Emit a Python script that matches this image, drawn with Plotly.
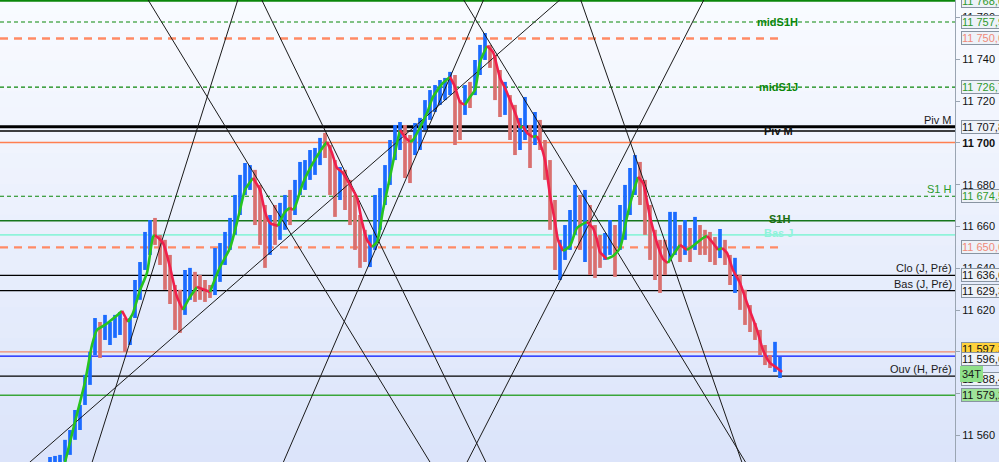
import plotly.graph_objects as go

# price bars, one per period (high / low), u = up bar, d = down bar
highs = [11549.7, 11550.2, 11550.7, 11557.9, 11562.6, 11572.2, 11574.6, 11589.0, 11600.0, 11616.2,
         11614.3, 11617.7, 11614.3, 11617.7, 11619.1, 11616.2, 11616.2, 11634.4, 11643.0, 11657.4,
         11663.1, 11664.1, 11656.0, 11653.6, 11646.4, 11632.0, 11629.7, 11639.2, 11640.2, 11638.3,
         11636.8, 11634.4, 11632.0, 11649.7, 11652.1, 11657.4, 11664.1, 11675.1, 11684.7, 11690.4,
         11689.4, 11687.1, 11679.9, 11670.3, 11665.5, 11670.3, 11671.3, 11675.1, 11677.5, 11682.3,
         11690.9, 11691.8, 11696.6, 11697.6, 11702.4, 11704.8, 11699.0, 11691.8, 11688.5, 11687.1,
         11682.3, 11675.1, 11665.5, 11658.4, 11656.0, 11675.1, 11678.4, 11689.4, 11701.4, 11708.6,
         11710.0, 11708.6, 11703.8, 11709.5, 11712.0, 11720.5, 11725.3, 11727.7, 11730.1, 11731.1,
         11734.0, 11732.5, 11720.5, 11727.7, 11729.2, 11739.7, 11746.9, 11752.6, 11746.9, 11742.1,
         11734.9, 11729.2, 11722.9, 11718.2, 11711.9, 11722.0, 11708.6, 11714.8, 11711.0, 11701.4,
         11691.8, 11672.7, 11653.6, 11660.7, 11667.9, 11679.9, 11675.1, 11677.5, 11670.3, 11660.7,
         11656.0, 11656.9, 11663.1, 11660.7, 11670.3, 11679.9, 11688.0, 11694.2, 11690.9, 11682.3,
         11670.3, 11658.4, 11653.6, 11653.6, 11667.0, 11667.0, 11660.7, 11663.1, 11659.3, 11664.6,
         11660.7, 11658.4, 11657.4, 11655.0, 11658.8, 11653.6, 11646.4, 11645.0, 11636.8, 11629.7,
         11622.4, 11613.8, 11610.5, 11603.3, 11598.5, 11604.8, 11597.6]
lows = [11545.0, 11545.0, 11546.0, 11547.5, 11550.7, 11557.9, 11562.6, 11574.6, 11584.2, 11598.5,
        11597.1, 11605.7, 11603.3, 11606.7, 11608.1, 11600.0, 11603.3, 11616.2, 11624.9, 11639.2,
        11646.4, 11651.2, 11641.6, 11629.7, 11622.9, 11610.5, 11609.1, 11617.7, 11624.9, 11623.9,
        11624.9, 11623.9, 11625.8, 11627.2, 11633.5, 11641.6, 11648.8, 11656.0, 11665.5, 11675.1,
        11677.5, 11660.7, 11651.2, 11640.2, 11646.4, 11651.2, 11653.6, 11658.4, 11660.7, 11665.5,
        11675.1, 11677.5, 11682.3, 11684.7, 11689.4, 11692.8, 11675.1, 11664.6, 11672.7, 11667.9,
        11660.7, 11648.8, 11640.2, 11643.0, 11640.6, 11648.8, 11658.4, 11670.3, 11679.9, 11691.8,
        11696.6, 11683.2, 11680.8, 11694.2, 11696.6, 11706.2, 11711.0, 11714.8, 11718.2, 11720.5,
        11722.9, 11699.0, 11701.4, 11713.4, 11716.7, 11722.9, 11732.5, 11739.7, 11735.9, 11720.5,
        11712.4, 11713.4, 11701.4, 11694.2, 11696.6, 11701.4, 11688.0, 11699.0, 11696.6, 11682.3,
        11658.4, 11639.2, 11634.4, 11644.0, 11648.8, 11656.0, 11648.8, 11643.0, 11636.8, 11635.4,
        11640.2, 11644.0, 11646.4, 11635.9, 11648.8, 11653.6, 11665.5, 11675.1, 11670.3, 11656.0,
        11644.0, 11634.4, 11628.2, 11636.8, 11644.0, 11646.4, 11643.0, 11646.4, 11643.0, 11648.8,
        11646.4, 11646.4, 11643.0, 11641.6, 11644.9, 11641.6, 11632.0, 11628.2, 11620.1, 11612.9,
        11609.5, 11605.7, 11598.5, 11593.7, 11592.3, 11590.4, 11587.5]
bar_dir = ("uuuuuuuuuu" "duuuuduuuu" "udddddduud" "ddduuuuuuu" "uddduduudu"
           "uuuuudddud" "dddduuuuuu" "udduuuuuuu" "udduduuudd" "dudduududd"
           "dduuuududd" "duuduuuudd" "dddduududu" "dddduddudd" "ddddduu")

# moving average (bar position, value)
ma_idx = [2.0, 3.0, 5.0, 7.0, 8.4, 9.4, 11.0, 13.0, 14.4, 15.6, 16.6, 18.0, 19.4, 20.6, 21.0,
          22.6, 24.0, 25.4, 26.6, 28.0, 29.4, 31.0, 32.0, 34.0, 36.0, 38.0, 39.0, 40.6, 42.0,
          43.0, 44.0, 45.6, 47.0, 48.0, 48.6, 49.0, 50.6, 52.6, 54.6, 55.4, 56.4, 57.4, 58.4,
          60.0, 61.4, 62.4, 63.4, 64.4, 65.4, 66.6, 68.0, 69.4, 70.0, 71.0, 72.0, 72.6, 75.4,
          76.6, 78.6, 80.0, 81.0, 82.0, 83.0, 84.0, 85.0, 86.0, 87.4, 88.6, 90.0, 91.0, 92.0,
          93.4, 94.0, 94.6, 95.4, 96.6, 97.4, 98.0, 99.0, 100.0, 101.0, 101.6, 102.6, 104.0,
          105.4, 107.4, 108.6, 109.4, 110.0, 111.4, 112.6, 114.0, 115.4, 116.6, 117.6, 118.6,
          120.0, 121.4, 122.6, 123.6, 124.6, 126.0, 127.4, 128.6, 130.6, 131.4, 132.6, 133.6,
          134.4, 135.4, 136.6, 138.0, 139.4, 141.4, 142.6, 144.0, 145.4, 146.4]
ma_val = [11539.7, 11547.3, 11566.5, 11585.6, 11603.3, 11610.5, 11612.9, 11616.7, 11619.6, 11614.3,
          11618.6, 11629.6, 11637.8, 11655.0, 11655.9, 11652.1, 11640.6, 11626.3, 11620.1, 11626.3,
          11631.1, 11629.6, 11628.7, 11640.6, 11649.7, 11667.9, 11677.5, 11683.2, 11677.5, 11667.0,
          11661.7, 11660.3, 11667.0, 11668.9, 11667.9, 11669.3, 11680.8, 11690.4, 11698.1, 11700.5,
          11695.2, 11688.0, 11686.1, 11679.9, 11673.7, 11662.2, 11653.6, 11650.2, 11652.6, 11667.9,
          11683.7, 11700.0, 11706.2, 11702.8, 11700.5, 11701.4, 11714.3, 11722.0, 11728.7, 11731.6,
          11726.8, 11719.6, 11718.2, 11722.0, 11725.3, 11738.7, 11746.4, 11743.5, 11731.1, 11726.3,
          11720.5, 11712.0, 11707.2, 11708.1, 11704.8, 11702.8, 11703.3, 11700.0, 11691.8, 11675.1,
          11662.2, 11653.6, 11648.3, 11650.7, 11659.3, 11662.2, 11659.3, 11653.6, 11647.8, 11644.5,
          11645.9, 11649.7, 11664.6, 11676.0, 11683.7, 11680.8, 11664.6, 11652.1, 11644.5, 11642.6,
          11646.4, 11651.2, 11648.8, 11650.7, 11654.5, 11655.5, 11652.1, 11648.8, 11649.7, 11647.3,
          11639.2, 11633.0, 11623.4, 11610.5, 11600.9, 11594.7, 11592.3, 11590.4]

# straight trend lines drawn on the chart: (start bar, start price, end bar, end price)
trend_lines = [
    (17.8, 11775.6, 77.8, 11540.2),
    (38.5, 11775.6, 7.5, 11540.2),
    (40.9, 11775.6, 88.6, 11540.2),
    (105.4, 11775.6, -7.4, 11540.2),
    (88.0, 11775.6, 45.4, 11540.2),
    (80.9, 11775.6, 140.9, 11540.2),
    (105.1, 11775.6, 139.4, 11540.2),
    (132.3, 11775.6, 81.9, 11540.2),
]

# horizontal levels
level_keys = ["top", "midS1H", "haut_tir", "midS1J", "Piv M", "piv_bas", "ouv", "S1 H", "S1H",
              "Bas J", "bas_tir", "Clo (J, Pré)", "Bas (J, Pré)", "rond", "bleu", "Ouv (H, Pré)", "S2"]
level_values = [11768.0, 11757.9, 11750.0, 11726.7, 11707.8, 11705.7, 11700.2, 11674.5, 11662.7,
                11656.0, 11650.0, 11636.6, 11629.3, 11600.0, 11598.0, 11588.4, 11579.2]

# price boxes on the right scale
box_values = [11768.0, 11757.9, 11750.0, 11726.7, 11707.8, 11674.5, 11650.0, 11636.6, 11629.3,
              11597.3, 11596.6, 11588.4, 11579.2]

tick_vals = [11560, 11580, 11600, 11620, 11640, 11660, 11680, 11700, 11720, 11740, 11760]

GREEN_D = "#0b870b"
ORANGE = "#ff8a65"
level_style = {
    "top": dict(color=GREEN_D, width=1.6, dash="solid", x1=1),
    "midS1H": dict(color=GREEN_D, width=1.1, dash="4px,3px", x1=1),
    "haut_tir": dict(color=ORANGE, width=2.4, dash="8px,6px", x1=0.815),
    "midS1J": dict(color=GREEN_D, width=1.1, dash="4px,3px", x1=1),
    "Piv M": dict(color="#000000", width=3, dash="solid", x1=1),
    "piv_bas": dict(color="#000000", width=1.3, dash="solid", x1=1),
    "ouv": dict(color="#ff7f50", width=1.3, dash="solid", x1=1),
    "S1 H": dict(color=GREEN_D, width=1.1, dash="4px,3px", x1=1),
    "S1H": dict(color="#16761c", width=1.5, dash="solid", x1=1),
    "Bas J": dict(color="#8ff3da", width=1.6, dash="solid", x1=1),
    "bas_tir": dict(color=ORANGE, width=2.4, dash="8px,6px", x1=0.815),
    "Clo (J, Pré)": dict(color="#000000", width=1.2, dash="solid", x1=1),
    "Bas (J, Pré)": dict(color="#000000", width=1.2, dash="solid", x1=1),
    "rond": dict(color="#f08a6e", width=1.3, dash="solid", x1=1),
    "bleu": dict(color="#0010ff", width=1.3, dash="solid", x1=1),
    "Ouv (H, Pré)": dict(color="#000000", width=1.3, dash="solid", x1=1),
    "S2": dict(color="#3aa63a", width=1.5, dash="solid", x1=1),
}

fig = go.Figure()

# background gradient (light at top, bluish at bottom)
n_bands = 30
top_rgb, bot_rgb = (249, 251, 255), (219, 228, 250)
for k in range(n_bands):
    t = (k + 0.5) / n_bands
    c = tuple(int(round(top_rgb[j] + (bot_rgb[j] - top_rgb[j]) * t)) for j in range(3))
    fig.add_shape(type="rect", xref="paper", yref="paper", x0=-0.01, x1=1.06,
                  y0=1 - (k + 1) / n_bands, y1=1 - k / n_bands + 0.002,
                  fillcolor="rgb(%d,%d,%d)" % c, line_width=0, layer="below")

for key, val in zip(level_keys, level_values):
    st = level_style[key]
    fig.add_shape(type="line", xref="paper", yref="y", x0=0, x1=st["x1"], y0=val, y1=val,
                  line=dict(color=st["color"], width=st["width"], dash=st["dash"]), layer="below")

# bars
idx = list(range(len(highs)))
for d, col in (("u", "#1b6bff"), ("d", "#d9706f")):
    xs = [i for i in idx if bar_dir[i] == d]
    fig.add_trace(go.Bar(x=xs, y=[highs[i] - lows[i] for i in xs], base=[lows[i] for i in xs],
                         width=0.74, marker=dict(color=col, line=dict(width=0)),
                         hoverinfo="skip", showlegend=False))

# trend lines
for x0, y0, x1, y1 in trend_lines:
    fig.add_trace(go.Scatter(x=[x0, x1], y=[y0, y1], mode="lines",
                             line=dict(color="#1a1a1a", width=1), hoverinfo="skip", showlegend=False))

# moving average coloured by direction
def add_ma(xs, ys, rising):
    fig.add_trace(go.Scatter(x=xs, y=ys, mode="lines",
                             line=dict(color="#27c41f" if rising else "#f0204c", width=2.6,
                                       shape="spline", smoothing=0.6),
                             hoverinfo="skip", showlegend=False))

seg_x, seg_y = [ma_idx[0]], [ma_val[0]]
seg_up = ma_val[1] > ma_val[0]
for k in range(1, len(ma_idx)):
    rising = ma_val[k] > ma_val[k - 1]
    if rising != seg_up:
        add_ma(seg_x, seg_y, seg_up)
        seg_x, seg_y = [ma_idx[k - 1]], [ma_val[k - 1]]
        seg_up = rising
    seg_x.append(ma_idx[k])
    seg_y.append(ma_val[k])
add_ma(seg_x, seg_y, seg_up)

lv = dict(zip(level_keys, level_values))
FONT = "Arial, Liberation Sans, sans-serif"

# labels inside the chart
inner_labels = [
    ("midS1H", "midS1H", 141.0, GREEN_D, 0),
    ("midS1J", "midS1J", 141.4, GREEN_D, 0),
    ("piv_bas", "Piv M", 142.4, "#111111", 0),
    ("S1H", "S1H", 143.4, "#1b6e12", 2),
    ("Bas J", "Bas J", 142.4, "#8ff3da", 2),
]
for key, txt, xpos, col, ys in inner_labels:
    fig.add_annotation(x=xpos, y=lv[key], xref="x", yref="y", text="<b>%s</b>" % txt,
                       showarrow=False, xanchor="left", yanchor="middle", yshift=ys,
                       font=dict(family=FONT, size=11, color=col))

right_labels = [
    ("Piv M", "Piv M", "#1a1a1a"),
    ("S1 H", "S1 H", "#2a9a2a"),
    ("Clo (J, Pré)", "Clo (J, Pré)", "#1a1a1a"),
    ("Bas (J, Pré)", "Bas (J, Pré)", "#1a1a1a"),
    ("Ouv (H, Pré)", "Ouv (H, Pré)", "#1a1a1a"),
]
for key, txt, col in right_labels:
    fig.add_annotation(x=1.0, y=lv[key], xref="paper", yref="y", text=txt, showarrow=False,
                       xanchor="right", yanchor="bottom", yshift=-1, xshift=-1,
                       font=dict(family=FONT, size=11, color=col))

# price boxes on the scale
box_style = [
    ("#2e9a2e", "#eef2f8", 0), ("#2e9a2e", "#eef2f8", 0), ("#f08a78", "#eef2f8", 0),
    ("#2e9a2e", "#eef2f8", 0), ("#111111", "#eef2f8", 0), ("#2e9a2e", "#eef2f8", 0),
    ("#f08a78", "#eef2f8", 0), ("#111111", "#eef2f8", 0), ("#111111", "#eef2f8", 0),
    ("#111111", "#ffd23c", 9), ("#111111", "#eef2f8", 0), ("#111111", "#eef2f8", -3),
    ("#111111", "#9fe39a", 0),
]
for val, (tc, bg, ys) in zip(box_values, box_style):
    txt = "{:,.1f}".format(val).replace(",", " ").replace(".", ",")
    fig.add_annotation(x=961 / 955, y=val, xref="paper", yref="y", text=txt, showarrow=False,
                       xanchor="left", yanchor="middle", yshift=ys, bgcolor=bg,
                       bordercolor="#8894a2", borderwidth=1, borderpad=0,
                       font=dict(family=FONT, size=11, color=tc))
fig.add_annotation(x=960 / 955, y=lv["Ouv (H, Pré)"], xref="paper", yref="y", text="34T",
                   showarrow=False, xanchor="left", yanchor="middle", yshift=2,
                   bgcolor="#8fe08a", bordercolor="#8fe08a", borderwidth=1, borderpad=1,
                   font=dict(family=FONT, size=11, color="#1a1a1a"))

tick_text = ["<b>11 700</b>" if v == 11700 else "{:,}".format(v).replace(",", " ") for v in tick_vals]

fig.update_layout(
    width=999, height=462,
    margin=dict(l=0, r=44, t=0, b=0, pad=0),
    paper_bgcolor="rgb(236,241,252)",
    plot_bgcolor="rgba(0,0,0,0)",
    barmode="overlay",
    showlegend=False,
    xaxis=dict(range=[-10, 181], visible=False, fixedrange=True),
    yaxis=dict(range=[11547.3, 11768.4], side="right", showgrid=False, zeroline=False,
               showline=True, linecolor="#9aa5b2", linewidth=1,
               ticks="outside", ticklen=4, tickcolor="#9aa5b2",
               tickvals=tick_vals, ticktext=tick_text,
               tickfont=dict(family=FONT, size=11, color="#111111"), fixedrange=True),
)

# the page is exactly the chart size, so drop the default body margin
fig.write_html("out.html", config={"displayModeBar": False},
               post_script="document.body.style.margin='0';document.body.style.overflow='hidden';")
